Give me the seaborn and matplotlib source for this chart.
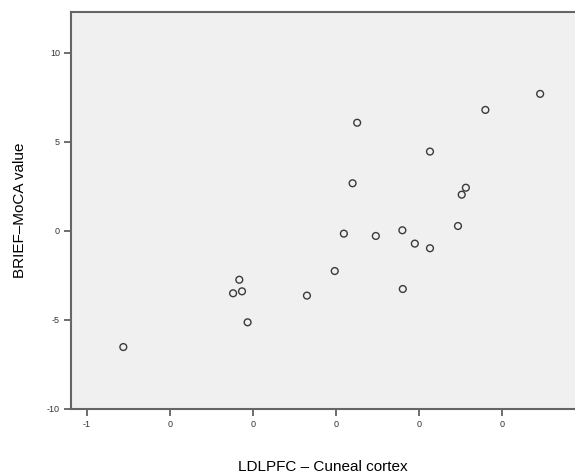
import matplotlib
matplotlib.use("Agg")
import matplotlib.pyplot as plt
import seaborn as sns
import pandas as pd

x_vals = [-0.5125, -0.248, -0.233, -0.2265, -0.213, -0.070, -0.003, 0.019, 0.040, 0.051,
          0.096, 0.160, 0.161, 0.190, 0.2265, 0.2265, 0.294, 0.303, 0.313, 0.360, 0.492]
y_vals = [-6.52, -3.50, -2.74, -3.39, -5.13, -3.63, -2.25, -0.15, 2.68, 6.08,
          -0.28, 0.04, -3.26, -0.71, 4.46, -0.97, 0.28, 2.04, 2.43, 6.80, 7.70]
x_ticks = [-0.6, -0.4, -0.2, 0.0, 0.2, 0.4]
x_tick_labels = ["-1", "0", "0", "0", "0", "0"]
y_ticks = [-10, -5, 0, 5, 10]
y_tick_labels = ["-10", "-5", "0", "5", "10"]

df = pd.DataFrame({"x": x_vals, "y": y_vals})

sns.set_style("white")
plt.rcParams["font.family"] = ["Liberation Sans", "DejaVu Sans"]

fig = plt.figure(figsize=(5.75, 4.75), dpi=100)
ax = fig.add_axes([71 / 575, (475 - 409) / 475, (575 - 71) / 575, (409 - 12) / 475])
ax.set_facecolor("#F0F0F0")

sns.scatterplot(data=df, x="x", y="y", ax=ax, marker="o", s=24,
                facecolor="none", edgecolor="#3a3a3a", linewidth=1.0)

ax.set_xlim(-0.6386, 0.576)
ax.set_ylim(-10, 12.3)
ax.set_xticks(x_ticks)
ax.set_xticklabels(x_tick_labels)
ax.set_yticks(y_ticks)
ax.set_yticklabels(y_tick_labels)
ax.tick_params(axis="both", direction="out", length=5, width=1.2, color="#555555",
               labelsize=6.5, labelcolor="#333333", pad=3, bottom=True, left=True)

for side in ["left", "bottom", "top"]:
    ax.spines[side].set_visible(True)
    ax.spines[side].set_color("#666666")
    ax.spines[side].set_linewidth(1.5)
ax.spines["right"].set_visible(False)

ax.set_xlabel("LDLPFC – Cuneal cortex", fontsize=11, labelpad=22.5, color="black")
ax.set_ylabel("BRIEF–MoCA value", fontsize=11, labelpad=14, color="black")

fig.savefig("out.png", dpi=100, facecolor="white")
